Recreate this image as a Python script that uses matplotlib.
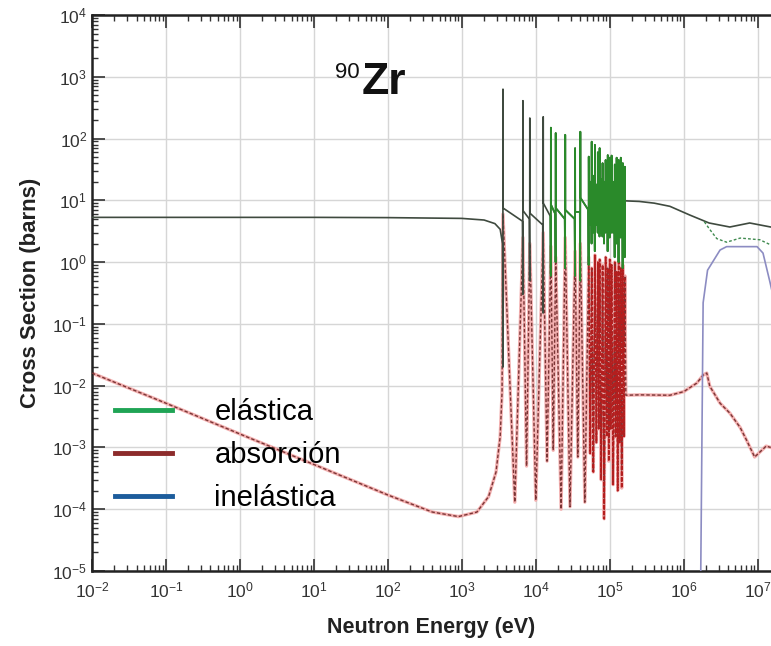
import numpy as np
import matplotlib
matplotlib.use("Agg")
from matplotlib import pyplot as plt
from matplotlib.lines import Line2D
from matplotlib.ticker import LogLocator

plt.rcParams['font.family'] = ['Liberation Sans', 'DejaVu Sans']
plt.rcParams['mathtext.fontset'] = 'custom'
plt.rcParams['mathtext.rm'] = 'Liberation Sans'
plt.rcParams['mathtext.bf'] = 'Liberation Sans:bold'

# --- datos (energia en eV, seccion eficaz en barns) ---
# elastica: zona suave a baja energia
el_left_E = [1e-2, 1e-1, 1e0, 1e1, 1e2, 1e3, 2e3, 2.8e3, 3.3e3]
el_left_s = [5.3, 5.3, 5.3, 5.3, 5.25, 5.1, 4.8, 4.2, 3.4]

# resonancias elasticas (energia, valor antes, minimo, pico, valor despues)
el_res_E = [3.6e3, 6.7e3, 8.3e3, 1.26e4, 1.6e4, 1.86e4, 2.5e4, 3.4e4, 4.0e4, 5.2e4,
            5.45e4, 5.7e4, 6.0e4, 6.3e4, 6.6e4, 6.9e4, 7.3e4, 7.65e4, 8.0e4, 8.4e4,
            8.8e4, 9.1e4, 9.4e4, 9.7e4, 1.0e5, 1.03e5, 1.06e5, 1.11e5, 1.17e5, 1.2e5,
            1.24e5, 1.28e5, 1.32e5, 1.36e5, 1.41e5, 1.45e5, 1.5e5, 1.55e5, 1.6e5]
el_res_before = [2.0, 4.6, 5.0, 4.0, 5.5, 6.0, 5.0, 5.0, 6.5, 7.0,
                 9, 8, 11, 9, 8, 7, 10, 9, 8, 12,
                 9, 7, 11, 10, 8, 12, 10, 9, 7, 11,
                 9, 8, 12, 10, 8, 13, 10, 8, 9]
el_res_dip = [0.02, 0.3, 0.5, 0.15, 0.6, 1.0, 0.8, 0.6, 0.5, 0.9,
              4, 2.0, 3, 1.5, 4, 3, 2.6, 3, 2.6, 2,
              3, 4, 1.5, 3, 2.5, 4, 3, 3, 1.2, 4,
              2, 3, 1.0, 4, 2.5, 3, 0.8, 4, 1.2]
el_res_peak = [630, 410, 215, 225, 150, 123, 115, 70, 129, 51,
               20, 89, 25, 79, 18, 60, 70, 22, 40, 20,
               45, 25, 54, 18, 49, 22, 53, 20, 38, 18,
               49, 25, 45, 20, 49, 22, 40, 18, 35]
el_res_after = [7.5, 6.8, 6.2, 9.0, 8.5, 7.5, 7.0, 6.5, 11, 12,
                8, 10, 9, 14, 12, 9, 12, 8, 10, 11,
                13, 10, 9, 12, 12, 9, 8, 13, 11, 9,
                14, 10, 9, 13, 12, 9, 11, 12, 10]

# total / elastica por encima de las resonancias
el_tail_E = [1.65e5, 2.5e5, 4e5, 6.5e5, 1.2e6, 2.2e6, 4.2e6, 7.8e6, 1.5e7]
el_tail_s = [9.8, 9.6, 9.0, 8.0, 5.8, 4.3, 3.7, 4.3, 3.7]

# elastica sola (discontinua) cuando se abre el canal inelastico
el_only_E = [1.9e6, 2.2e6, 2.8e6, 3.8e6, 5.8e6, 1.07e7, 1.5e7]
el_only_s = [4.5, 3.5, 2.4, 2.1, 2.45, 2.3, 1.9]

# absorcion
abs_left_E = [1e-2, 1e-1, 1e0, 1e1, 1e2, 4e2, 9e2, 1.6e3, 2.3e3, 2.9e3, 3.3e3, 3.5e3]
abs_left_s = [1.6e-2, 5.2e-3, 1.65e-3, 5.3e-4, 1.7e-4, 9e-5, 7.6e-5, 9e-5,
              1.6e-4, 4e-4, 1.5e-3, 8e-3]
abs_res_E = [3.6e3, 6.7e3, 8.3e3, 1.26e4, 1.6e4, 1.86e4, 2.5e4, 3.4e4, 4.0e4,
             5.2e4, 5.7e4, 6.3e4, 6.9e4, 7.3e4, 8.0e4, 8.8e4, 9.4e4, 1.0e5,
             1.06e5, 1.17e5, 1.24e5, 1.32e5, 1.41e5, 1.5e5, 1.6e5]
abs_res_peak = [6, 2.5, 2.0, 3.0, 1.8, 1.2, 2.5, 1.5, 2.0, 1.2, 0.8, 1.3, 1.0,
                1.1, 0.9, 1.2, 0.8, 1.1, 0.9, 1.0, 0.7, 1.0, 0.8, 0.9, 0.6]
abs_trough_E = [5.2e3, 7.5e3, 1.0e4, 1.42e4, 1.72e4, 2.2e4, 2.9e4, 3.7e4,
                4.6e4, 5.45e4, 6.0e4, 6.6e4, 7.1e4, 7.65e4, 8.4e4, 9.1e4,
                9.7e4, 1.03e5, 1.11e5, 1.2e5, 1.28e5, 1.36e5, 1.45e5, 1.55e5]
abs_trough_s = [1.3e-4, 5e-4, 1.4e-4, 6e-4, 9e-4, 1.0e-4, 1.1e-4, 7e-4,
                1.3e-4, 8e-4, 4e-4, 1.2e-3, 2e-3, 3e-4, 7e-5, 1.5e-3, 6e-4,
                2e-3, 2.5e-4, 1.5e-3, 2e-4, 1.2e-3, 2.2e-4, 1.5e-3]
abs_tail_E = [1.65e5, 2.5e5, 6.5e5, 1e6, 1.5e6, 1.85e6, 2.05e6, 2.25e6,
              3.1e6, 4.2e6, 5.8e6, 7.1e6, 9.1e6, 1.3e7, 1.5e7]
abs_tail_s = [7e-3, 7.1e-3, 7e-3, 8e-3, 1.1e-2, 1.5e-2, 1.6e-2, 9.8e-3,
              5.2e-3, 3.6e-3, 2.1e-3, 1.3e-3, 7e-4, 1.05e-3, 1.0e-3]

# inelastica
inel_E = [1.7e6, 1.83e6, 2.1e6, 3.1e6, 3.8e6, 9.8e6, 1.18e7, 1.45e7, 1.6e7]
inel_s = [1e-5, 0.22, 0.74, 1.57, 1.78, 1.78, 1.4, 0.5, 0.3]

legend_labels = ["elástica", "absorción", "inelástica"]
legend_colors = ["#1fa455", "#8c2b2b", "#1c5c9c"]

# --- construir las curvas ---
E_el = list(el_left_E)
s_el = list(el_left_s)
for Er, b, d, p, a in zip(el_res_E, el_res_before, el_res_dip, el_res_peak, el_res_after):
    E_el += [Er * 0.985, Er * 0.996, Er, Er * 1.004]
    s_el += [b, d, p, a]
E_el = np.array(E_el + el_tail_E)
s_el = np.array(s_el + el_tail_s)

mid = sorted(zip(abs_res_E + abs_trough_E, abs_res_peak + abs_trough_s))
E_ab = np.array(abs_left_E + [m[0] for m in mid] + abs_tail_E)
s_ab = np.array(abs_left_s + [m[1] for m in mid] + abs_tail_s)

fig = plt.figure(figsize=(7.71, 6.46), dpi=100)
ax = fig.add_axes([92 / 771, 75 / 646, 679 / 771, 556 / 646])
ax.set_xscale('log')
ax.set_yscale('log')
ax.set_xlim(1e-2, 10 ** 7.18)
ax.set_ylim(1e-5, 1e4)
for axis in (ax.xaxis, ax.yaxis):
    axis.set_major_locator(LogLocator(base=10, numticks=30))
    axis.set_minor_locator(LogLocator(base=10, subs=np.arange(2, 10), numticks=30))

ax.grid(True, which='major', color='#d6d6d6', lw=1.0)
ax.set_axisbelow(True)

# absorcion: halo rosa + discontinua
ax.plot(E_ab, s_ab, color='#f3b0b0', lw=2.4, solid_joinstyle='round', zorder=2)
ax.plot(E_ab, s_ab, color='#7a3535', lw=1.0, dashes=(2.5, 1.5), zorder=3)
m = (E_ab > 4.8e4) & (E_ab < 1.62e5)
ax.plot(E_ab[m], s_ab[m], color='#b41e1e', lw=1.2, dashes=(2.5, 1.0), zorder=3)

# inelastica
ax.plot(inel_E, inel_s, color='#8c8cc2', lw=1.2, zorder=3)

# elastica / total
ax.plot(E_el, s_el, color='#3f4a3f', lw=1.2, zorder=4)
m = (E_el > 1.45e4) & (E_el < 1.63e5)
ax.plot(E_el[m], s_el[m], color='#2a8a2a', lw=1.3, zorder=5)
ax.plot(el_only_E, el_only_s, color='#3f8a4f', lw=1.0, dashes=(2, 1.5), zorder=4)

ax.tick_params(which='both', direction='in', top=True, right=False,
               colors='#333333', labelsize=12.5)
ax.tick_params(which='major', length=9, width=1.2)
ax.tick_params(which='minor', length=4.5, width=1.0)
ax.tick_params(axis='x', which='major', pad=7)
ax.spines['right'].set_visible(False)
for sp in ['left', 'top', 'bottom']:
    ax.spines[sp].set_linewidth(1.8)
    ax.spines[sp].set_color('#222222')

ax.set_xlabel("Neutron Energy (eV)", fontsize=15.5, fontweight='bold',
              color='#222222', labelpad=12)
ax.set_ylabel("Cross Section (barns)", fontsize=16, fontweight='bold',
              color='#222222', labelpad=8)

fig.text(335 / 771, 1 - 73 / 646, "90", fontsize=16, va='center', color='#111111')
fig.text(362 / 771, 1 - 83 / 646, "Zr", fontsize=32, fontweight='bold',
         va='center', color='#111111')

handles = [Line2D([], [], color=c, lw=3.5) for c in legend_colors]
ax.legend(handles, legend_labels, loc='upper left', bbox_to_anchor=(0.034, 0.311),
          frameon=False, fontsize=21, handlelength=1.95, handletextpad=1.45,
          labelspacing=0.51, borderpad=0, borderaxespad=0)

fig.savefig("out.png", dpi=100)
